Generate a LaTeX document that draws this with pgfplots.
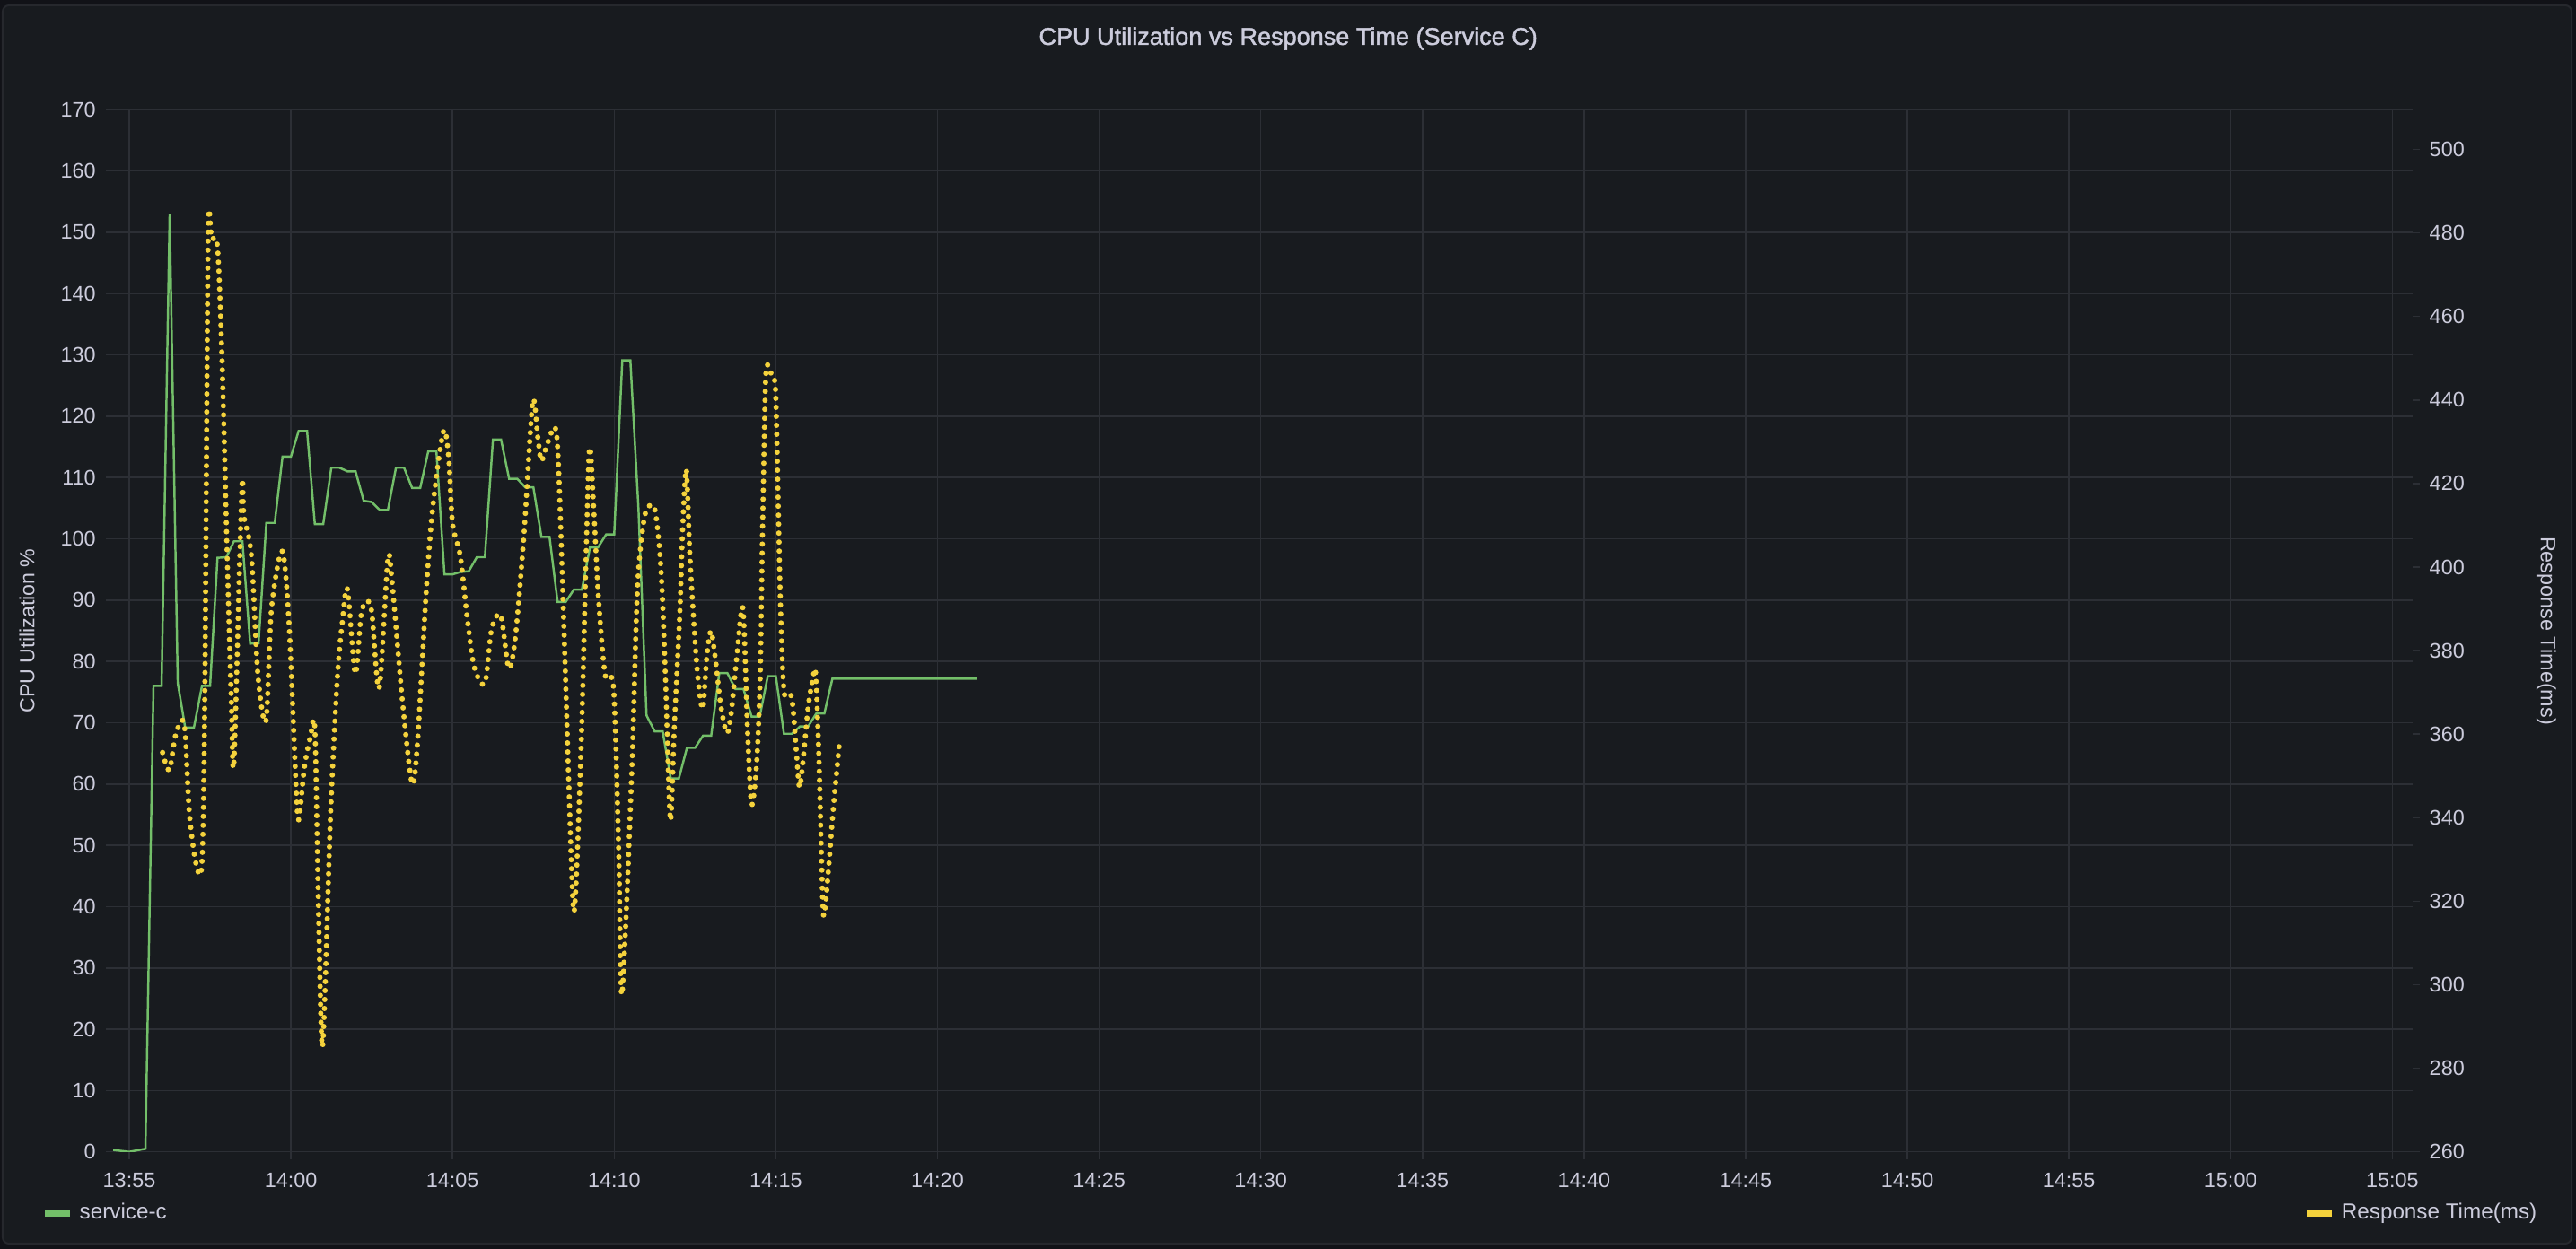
\documentclass[border=0pt]{standalone}
\usepackage{fontspec}
\setmainfont{Liberation Sans}
\newfontfamily\titlefont[FakeBold=1.5]{Liberation Sans}
\usepackage{pgfplots}
\pgfplotsset{compat=1.18}
\definecolor{pagebg}{HTML}{111217}
\definecolor{panelbg}{HTML}{181B1F}
\definecolor{bordc}{HTML}{26282D}
\definecolor{gridc}{HTML}{2C2F35}
\definecolor{txt}{HTML}{CCCCDC}
\definecolor{cgreen}{HTML}{73BF69}
\definecolor{cyellow}{HTML}{F4D23C}
\begin{document}
\begin{tikzpicture}
\useasboundingbox (0,0) rectangle (28.7cm,13.92cm);
\fill[pagebg] (0,0) rectangle (28.7cm,13.92cm);
\filldraw[fill=panelbg, draw=bordc, line width=0.02cm, rounded corners=0.07cm] (0.03cm,0.06cm) rectangle (28.65cm,13.86cm);
\pgfplotsset{
  mybase/.style={
    scale only axis, width=25.62cm, height=11.614cm,
    at={(1.26cm,1.083cm)}, anchor=south west,
    xmin=-0.5, xmax=70.63,
    axis line style={draw=none},
    tick align=outside, major tick length=0.08cm,
    tick style={draw=gridc, line width=0.45pt},
    ticklabel style={font=\fontsize{6.66}{8}\selectfont, text=txt},
    /pgf/number format/assume math mode=true,
    legend image code/.code={\draw[##1, solid, line cap=butt, line width=0.08cm] (0cm,0cm) -- (0.28cm,0cm);},
    legend style={draw=none, fill=none, inner sep=0pt, font=\fontsize{6.9}{8}\selectfont, text=txt},
  }
}
\begin{axis}[mybase,
  ymin=0, ymax=170, ytick={0,10,...,170},
  xtick={0,5,...,70},
  xticklabels={13:55,14:00,14:05,14:10,14:15,14:20,14:25,14:30,14:35,14:40,14:45,14:50,14:55,15:00,15:05},
  xtick pos=left, ytick pos=left,
  xticklabel style={anchor=north, inner sep=0pt, yshift=-0.15cm},
  yticklabel style={anchor=east, inner sep=0pt, xshift=-0.107cm},
  grid=major, major grid style={draw=gridc, line width=0.45pt},
  title={CPU Utilization vs Response Time (Service C)},
  every axis title/.style={at={([yshift=0.723cm]axis description cs:0.511,1)}, anchor=base, inner sep=0pt, font=\titlefont\fontsize{7.7}{9}\selectfont, text=txt},
  ylabel={CPU Utilization \%},
  every axis y label/.style={at={([xshift=-0.96cm]axis description cs:0,0.5)}, rotate=90, anchor=center, font=\fontsize{6.6}{8}\selectfont, text=txt},
  legend style={at={([xshift=-0.81cm, yshift=-0.683cm]axis description cs:0,0)}, anchor=west},
]
\addplot[cgreen, line width=0.7pt, mark=none] coordinates {
(-0.5,0.3) (0,0) (0.5,0.5) (0.75,76) (1.0,76) (1.25,153) (1.5,76.5) (1.73,69.2) (2.0,69.2) (2.25,76) (2.5,76)
(2.73,96.9) (3.0,97) (3.24,99.6) (3.5,99.6) (3.74,82.9) (4.0,83) (4.24,102.6) (4.5,102.6) (4.74,113.4) (5.0,113.4)
(5.24,117.6) (5.5,117.6) (5.74,102.4) (6.0,102.4) (6.25,111.6) (6.5,111.6) (6.75,111) (7.0,111) (7.25,106.2) (7.5,106)
(7.75,104.7) (8.0,104.7) (8.25,111.6) (8.5,111.6) (8.75,108.3) (9.0,108.3) (9.25,114.3) (9.5,114.3) (9.75,94.2) (10.0,94.2)
(10.25,94.6) (10.5,94.7) (10.75,97) (11.0,97) (11.25,116.2) (11.5,116.2) (11.75,109.8) (12.0,109.8) (12.25,108.4) (12.5,108.4)
(12.75,100.3) (13.0,100.3) (13.25,89.7) (13.5,89.7) (13.75,91.7) (14.0,91.7) (14.25,98.6) (14.5,98.6) (14.75,100.7) (15.0,100.7)
(15.25,129.1) (15.5,129.1) (15.75,105) (16.0,71.2) (16.25,68.6) (16.5,68.6) (16.75,60.9) (17.0,60.9) (17.25,65.9) (17.5,65.9)
(17.75,67.9) (18.0,67.9) (18.25,78.1) (18.5,78.1) (18.75,75.5) (19.0,75.5) (19.25,71) (19.5,71) (19.75,77.6) (20.0,77.6)
(20.25,68.2) (20.5,68.2) (20.75,69.4) (21.0,69.4) (21.25,71.5) (21.5,71.5) (21.75,77.2) (26.23,77.2)
};
\addlegendentry{service-c}
\end{axis}
\begin{axis}[mybase,
  ymin=260, ymax=509.5, ytick={260,280,...,500},
  xtick=\empty, ytick pos=right, yticklabel pos=right,
  yticklabel style={anchor=west, inner sep=0pt, xshift=0.10cm},
  ylabel={Response Time(ms)},
  every axis y label/.style={at={([xshift=1.49cm]axis description cs:1,0.5)}, rotate=-90, anchor=center, font=\fontsize{6.66}{8}\selectfont, text=txt},
  legend style={at={([xshift=1.46cm, yshift=-0.683cm]axis description cs:1,0)}, anchor=east},
]
\addplot[cyellow, line width=1.7pt, line cap=round, dash pattern=on 0pt off 2.85pt, smooth, tension=0.5, mark=none] coordinates {
(1.03,355.6) (1.24,351.4) (1.44,360) (1.70,362.4) (1.86,341.1) (2.07,328.8) (2.25,329.5) (2.34,371) (2.44,479) (2.55,478.5)
(2.73,476.5) (2.87,449.8) (3.03,402.6) (3.15,370) (3.24,353.4) (3.48,418.3) (3.55,412) (3.78,402.6) (3.98,374.2) (4.23,363.2)
(4.40,390) (4.73,403.8) (4.94,386.8) (5.15,349) (5.24,339.5) (5.42,352.2) (5.6,359.2) (5.74,361.6) (5.84,323.8) (5.98,285.2)
(6.22,339.5) (6.43,372.6) (6.59,386.8) (6.75,394.7) (6.99,374.5) (7.17,388.4) (7.33,391.8) (7.5,389.3) (7.73,371) (8.0,401.8)
(8.13,396.3) (8.45,367.9) (8.75,348.2) (8.92,358.5) (9.19,394.7) (9.4,415.2) (9.72,432.5) (9.88,426.2) (10.0,410.4) (10.24,402.6)
(10.47,386.8) (10.68,375.8) (11.0,372.2) (11.21,385.2) (11.49,388.4) (11.74,375.8) (11.95,383.7) (12.22,408.9) (12.48,439.6) (12.64,430.9)
(12.75,425.4) (12.96,430.1) (13.23,430.9) (13.44,386.8) (13.6,347.4) (13.76,317.5) (13.97,355.3) (14.13,402.6) (14.24,428.6) (14.37,413.6)
(14.51,393.1) (14.72,374.2) (14.98,371) (15.14,331.7) (15.24,297.7) (15.53,348) (15.69,389.1) (15.79,402.8) (15.97,413.1) (16.23,414.5)
(16.38,406.2) (16.48,394.6) (16.59,372.7) (16.74,339.4) (16.86,361.7) (17.03,389.1) (17.12,409.7) (17.23,423.4) (17.34,402.8) (17.5,382.3)
(17.6,372.7) (17.74,366.1) (17.86,378.1) (17.99,384.7) (18.13,378) (18.29,367.2) (18.48,360.3) (18.61,364.5) (18.77,376.8) (18.98,390.2)
(19.12,361.8) (19.25,343.2) (19.41,353.5) (19.52,375.4) (19.59,409.7) (19.68,443.9) (19.75,448.4) (19.89,445.3) (19.99,442.5) (20.07,416.5)
(20.15,389.1) (20.26,369.9) (20.49,368.8) (20.63,356.2) (20.73,347.3) (20.84,353.5) (21.0,366.5) (21.14,373) (21.23,374.7) (21.33,354.9)
(21.4,334.3) (21.48,316.5) (21.64,328.8) (21.78,342.5) (21.96,357.3)
};
\addlegendentry{Response Time(ms)}
\end{axis}
\end{tikzpicture}
\end{document}
